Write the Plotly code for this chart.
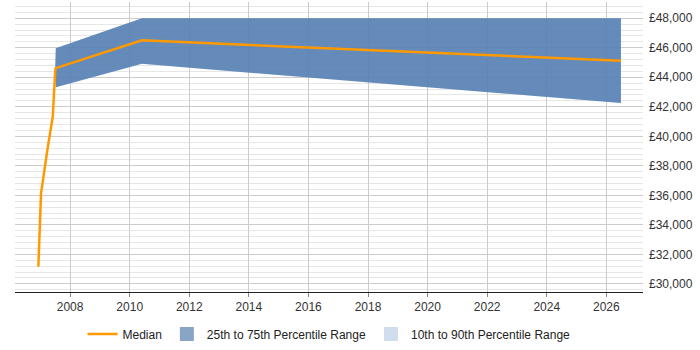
import plotly.graph_objects as go

years = [2006.934, 2006.968, 2007.025, 2007.237, 2007.418, 2007.50, 2007.52, 2010.41, 2026.49]
median = [31170, 33660, 36150, 39080, 41340, 44450, 44620, 46500, 45120]
p25 = [31080, 33520, 35980, 38900, 41150, 44280, 43320, 44910, 42250]
p75 = [31260, 33820, 36320, 39260, 41520, 44620, 45970, 48000, 48000]
p10 = [30650, 33400, 35900, 38850, 41100, 44250, 43320, 44910, 42250]
p90 = [31300, 33850, 36350, 39300, 41550, 44650, 45970, 48000, 48000]

x_ticks = list(range(2008, 2027, 2))

fig = go.Figure()

# 10-90 band
fig.add_trace(go.Scatter(x=years, y=p10, mode="lines", line=dict(width=0),
                         showlegend=False, hoverinfo="skip"))
fig.add_trace(go.Scatter(x=years, y=p90, mode="lines", line=dict(width=0),
                         fill="tonexty", fillcolor="rgba(180,204,232,0.6)",
                         showlegend=False, hoverinfo="skip"))
# 25-75 band
fig.add_trace(go.Scatter(x=years, y=p25, mode="lines", line=dict(width=0),
                         showlegend=False, hoverinfo="skip"))
fig.add_trace(go.Scatter(x=years, y=p75, mode="lines", line=dict(width=0),
                         fill="tonexty", fillcolor="rgba(70,115,170,0.78)",
                         showlegend=False, hoverinfo="skip"))
# median
fig.add_trace(go.Scatter(x=years, y=median, mode="lines", name="Median",
                         line=dict(color="#FF9900", width=2.5)))

# legend dummies
fig.add_trace(go.Scatter(x=[None], y=[None], mode="markers", name="25th to 75th Percentile Range",
                         marker=dict(symbol="square", size=14, color="#88A5C6")))
fig.add_trace(go.Scatter(x=[None], y=[None], mode="markers", name="10th to 90th Percentile Range",
                         marker=dict(symbol="square", size=14, color="#CFDDEE")))

fig.update_layout(
    width=700, height=350,
    margin=dict(l=15, r=57, t=2, b=58),
    paper_bgcolor="white", plot_bgcolor="white",
    font=dict(family="Liberation Sans, Arial, sans-serif", size=12, color="#333"),
    legend=dict(orientation="h", x=0.5, xanchor="center", y=-0.145, yanchor="middle",
                traceorder="normal", font=dict(size=12, color="#222")),
    xaxis=dict(range=[2006.15, 2027.23], tickvals=x_ticks, showgrid=True,
               gridcolor="#cccccc", showline=True, linecolor="#222", linewidth=1,
               ticks="outside", ticklen=4, tickcolor="#888", zeroline=False),
    yaxis=dict(side="right", range=[29450, 49100], dtick=2000, tick0=0,
               tickprefix="£", tickformat=",", showgrid=True, gridcolor="#cccccc",
               minor=dict(dtick=400, showgrid=True, gridcolor="#e6e6e6"),
               zeroline=False, showline=False, ticks="", ticklabelstandoff=5),
)

fig.write_html("out.html")
